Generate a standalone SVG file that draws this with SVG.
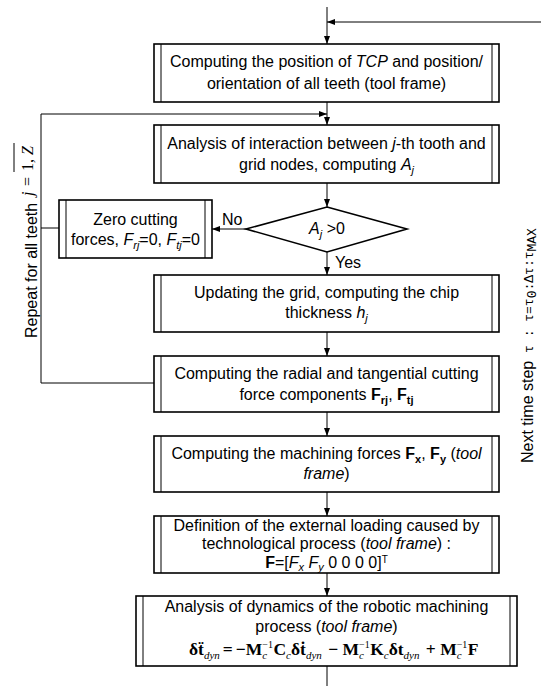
<svg xmlns="http://www.w3.org/2000/svg" width="541" height="686" viewBox="0 0 541 686">
<style>
text { font-family: "Liberation Sans", Arial, sans-serif; font-size: 16px; fill: #000; }
.box { fill: #fff; stroke: #000; stroke-width: 1.6; }
.inner { stroke: #000; stroke-width: 1; fill: none; }
.conn { stroke: #000; stroke-width: 1; fill: none; }
.it { font-style: italic; }
.b { font-weight: bold; }
.sub { font-size: 11px; }
.eq { font-family: "Liberation Serif", "Times New Roman", serif; font-size: 17.5px; font-weight: bold; }
.eqs { font-size: 11px; font-style: italic; font-weight: normal; }
.eqp { font-size: 10px; font-weight: normal; }
.mono { font-family: "Liberation Mono", "DejaVu Sans Mono", monospace; font-size: 13px; }
.math { font-family: "Liberation Serif", "Times New Roman", serif; font-size: 16px; }
</style>
<defs>
<marker id="ah" markerUnits="userSpaceOnUse" markerWidth="8" markerHeight="6" refX="8" refY="3" orient="auto">
<path d="M0,0 L8,3 L0,6 z" fill="#000"/>
</marker>
</defs>

<g id="connectors">
<line class="conn" x1="327" y1="7" x2="327" y2="44" marker-end="url(#ah)"/>
<line class="conn" x1="541" y1="22" x2="327" y2="22" marker-end="url(#ah)"/>
<line class="conn" x1="327" y1="102" x2="327" y2="125" marker-end="url(#ah)"/>
<polyline class="conn" points="154,383 41,383 41,114 327,114" marker-end="url(#ah)"/>
<line class="conn" x1="41" y1="228" x2="59" y2="228"/>
<line class="conn" x1="327" y1="183" x2="327" y2="207" marker-end="url(#ah)"/>
<line class="conn" x1="246" y1="229" x2="212" y2="229" marker-end="url(#ah)"/>
<line class="conn" x1="327" y1="252" x2="327" y2="275" marker-end="url(#ah)"/>
<line class="conn" x1="327" y1="332" x2="327" y2="356" marker-end="url(#ah)"/>
<line class="conn" x1="327" y1="412" x2="327" y2="436" marker-end="url(#ah)"/>
<line class="conn" x1="327" y1="492" x2="327" y2="516" marker-end="url(#ah)"/>
<line class="conn" x1="327" y1="573" x2="327" y2="596" marker-end="url(#ah)"/>
<line class="conn" x1="327" y1="666" x2="327" y2="686"/>
<text x="222" y="225">No</text>
<text x="335" y="268">Yes</text>
</g>

<g id="box1">
<rect class="box" x="154" y="44" width="345" height="58"/>
<line class="inner" x1="161" y1="44" x2="161" y2="102"/>
<line class="inner" x1="492" y1="44" x2="492" y2="102"/>
<text x="326.5" y="67" text-anchor="middle">Computing the position of <tspan class="it">TCP</tspan> and position/</text>
<text x="326.5" y="89" text-anchor="middle">orientation of all teeth (tool frame)</text>
</g>

<g id="box2">
<rect class="box" x="154" y="125" width="345" height="58"/>
<line class="inner" x1="161" y1="125" x2="161" y2="183"/>
<line class="inner" x1="492" y1="125" x2="492" y2="183"/>
<text x="326.5" y="149" text-anchor="middle">Analysis of interaction between <tspan class="it">j</tspan>-th tooth and</text>
<text x="326.5" y="170" text-anchor="middle">grid nodes, computing <tspan class="it">A</tspan><tspan class="it sub" dy="4">j</tspan></text>
</g>

<g id="zero">
<rect class="box" x="59" y="200" width="153" height="58"/>
<line class="inner" x1="66" y1="200" x2="66" y2="258"/>
<line class="inner" x1="205" y1="200" x2="205" y2="258"/>
<text x="135.5" y="225" text-anchor="middle">Zero cutting</text>
<text x="135.5" y="245" text-anchor="middle">forces, <tspan class="it">F</tspan><tspan class="it sub" dy="4">rj</tspan><tspan dy="-4">=0, </tspan><tspan class="it">F</tspan><tspan class="it sub" dy="4">tj</tspan><tspan dy="-4">=0</tspan></text>
</g>

<g id="decision">
<polygon class="box" points="327,207 407,229 327,252 246,229"/>
<text x="327" y="234" text-anchor="middle"><tspan class="it">A</tspan><tspan class="it sub" dy="4">j</tspan><tspan dy="-4"> &gt;0</tspan></text>
</g>

<g id="box3">
<rect class="box" x="154" y="275" width="345" height="57"/>
<line class="inner" x1="161" y1="275" x2="161" y2="332"/>
<line class="inner" x1="492" y1="275" x2="492" y2="332"/>
<text x="326.5" y="298" text-anchor="middle">Updating the grid, computing the chip</text>
<text x="326.5" y="318" text-anchor="middle">thickness <tspan class="it">h</tspan><tspan class="it sub" dy="4">j</tspan></text>
</g>

<g id="box4">
<rect class="box" x="154" y="356" width="345" height="56"/>
<line class="inner" x1="161" y1="356" x2="161" y2="412"/>
<line class="inner" x1="492" y1="356" x2="492" y2="412"/>
<text x="326.5" y="379" text-anchor="middle">Computing the radial and tangential cutting</text>
<text x="326.5" y="400" text-anchor="middle">force components <tspan class="b">F</tspan><tspan class="b sub" dy="4">rj</tspan><tspan dy="-4">, </tspan><tspan class="b">F</tspan><tspan class="b sub" dy="4">tj</tspan></text>
</g>

<g id="box5">
<rect class="box" x="154" y="436" width="345" height="56"/>
<line class="inner" x1="161" y1="436" x2="161" y2="492"/>
<line class="inner" x1="492" y1="436" x2="492" y2="492"/>
<text x="326.5" y="459" text-anchor="middle">Computing the machining forces <tspan class="b">F</tspan><tspan class="b sub" dy="4">x</tspan><tspan dy="-4">, </tspan><tspan class="b">F</tspan><tspan class="b sub" dy="4">y</tspan><tspan dy="-4"> (</tspan><tspan class="it">tool</tspan></text>
<text x="326.5" y="479" text-anchor="middle"><tspan class="it">frame</tspan>)</text>
</g>

<g id="box6">
<rect class="box" x="154" y="516" width="345" height="57"/>
<line class="inner" x1="161" y1="516" x2="161" y2="573"/>
<line class="inner" x1="492" y1="516" x2="492" y2="573"/>
<text x="326.5" y="531" text-anchor="middle">Definition of the external loading caused by</text>
<text x="326.5" y="549" text-anchor="middle">technological process (<tspan class="it">tool frame</tspan>) :</text>
<text x="326.5" y="568" text-anchor="middle"><tspan class="b">F</tspan>=[<tspan class="it">F</tspan><tspan class="it sub" dy="3">x</tspan><tspan dy="-3"> </tspan><tspan class="it">F</tspan><tspan class="it sub" dy="3">y</tspan><tspan dy="-3"> 0 0 0 0]</tspan><tspan font-size="10" dy="-5">T</tspan></text>
</g>

<g id="box7">
<rect class="box" x="136" y="596" width="381" height="70"/>
<line class="inner" x1="143" y1="596" x2="143" y2="666"/>
<line class="inner" x1="510" y1="596" x2="510" y2="666"/>
<text x="326.5" y="612" text-anchor="middle">Analysis of dynamics of the robotic machining</text>
<text x="326.5" y="632" text-anchor="middle">process (<tspan class="it">tool frame</tspan>)</text>
<text class="eq" x="189" y="655">δẗ<tspan class="eqs" dy="4">dyn</tspan><tspan dy="-4" dx="3">=</tspan><tspan dx="3">−M</tspan><tspan class="eqp" dy="-7">−1</tspan><tspan class="eqs" dx="-10.6" dy="11">c</tspan><tspan dx="6.2" dy="-4">C</tspan><tspan class="eqs" dy="4">c</tspan><tspan dy="-4">δṫ</tspan><tspan class="eqs" dy="4">dyn</tspan><tspan dy="-4" dx="2"> − M</tspan><tspan class="eqp" dy="-7">−1</tspan><tspan class="eqs" dx="-10.6" dy="11">c</tspan><tspan dx="6.2" dy="-4">K</tspan><tspan class="eqs" dy="4">c</tspan><tspan dy="-4">δt</tspan><tspan class="eqs" dy="4">dyn</tspan><tspan dy="-4" dx="2"> + M</tspan><tspan class="eqp" dy="-7">−1</tspan><tspan class="eqs" dx="-10.6" dy="11">c</tspan><tspan dx="6.2" dy="-4">F</tspan></text>
</g>

<g id="repeat-label" transform="translate(37,338) rotate(-90)">
<text x="0" y="0">Repeat for all teeth</text>
<text class="math" y="-4"><tspan class="it" x="142">j</tspan><tspan x="152">=</tspan><tspan x="167">1</tspan><tspan x="175">,</tspan><tspan class="it" x="183">Z</tspan></text>
<line x1="166" y1="-23" x2="195" y2="-23" stroke="#000" stroke-width="1"/>
</g>

<g id="time-label" transform="translate(533,463) rotate(-90)">
<text x="0" y="0">Next time step<tspan class="mono"> τ : τ=τ</tspan><tspan class="mono" font-size="9" dy="3">0</tspan><tspan class="mono" dy="-3">:Δτ:τ</tspan><tspan class="mono" font-size="9" dy="3">MAX</tspan></text>
</g>
</svg>
